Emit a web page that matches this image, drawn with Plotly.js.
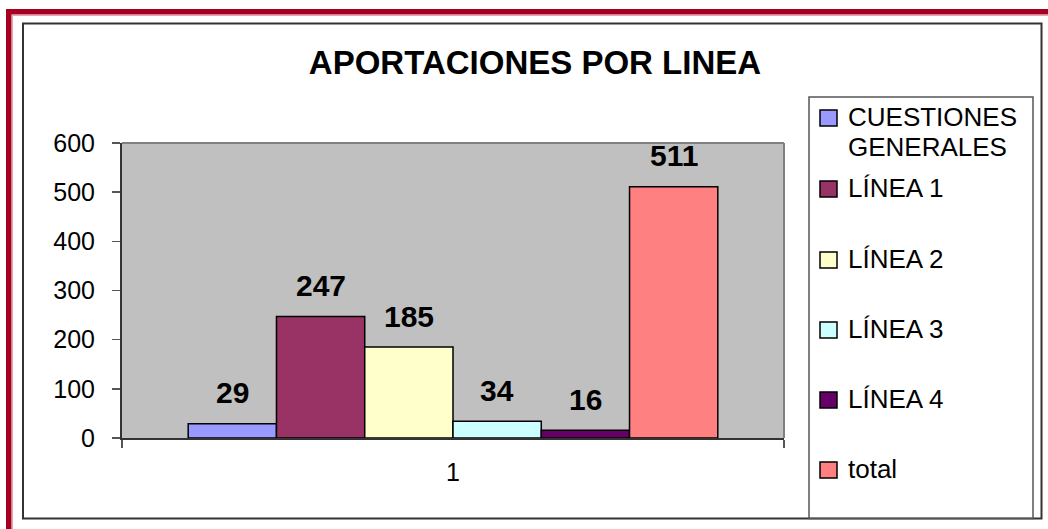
<!DOCTYPE html>
<html>
<head>
<meta charset="utf-8">
<script src="https://cdn.plot.ly/plotly-3.0.1.min.js"></script>
<style>
html,body{margin:0;padding:0;background:#fff;}
#chart{width:1048px;height:529px;}
</style>
</head>
<body>
<div id="chart"></div>
<script>
// ---- data ----
const categories = ['1'];
const seriesNames = ['CUESTIONES<br>GENERALES', 'LÍNEA 1', 'LÍNEA 2', 'LÍNEA 3', 'LÍNEA 4', 'total'];
const seriesValues = [29, 247, 185, 34, 16, 511];
const seriesColors = ['#9999FF', '#993366', '#FFFFCC', '#CCFFFF', '#660066', '#FF8080'];
const yTickValues = [0, 100, 200, 300, 400, 500, 600];
const titleText = 'APORTACIONES POR LINEA';

// ---- layout helpers (pixel -> paper) ----
const W = 1048, H = 529, L = 122, R = 784, T = 143, B = 438;
const px = x => (x - L) / (R - L);
const py = y => (B - y) / (B - T);
const FONT = 'Liberation Sans, Arial, sans-serif';
const BARGAP = 0.2;

const traces = seriesValues.map((v, i) => ({
  type: 'bar',
  name: seriesNames[i],
  x: categories,
  y: [v],
  marker: {color: seriesColors[i], line: {color: '#000', width: 1.5}},
  hoverinfo: 'skip'
}));

const n = seriesValues.length;
const bw = (1 - BARGAP) / n;
const annotations = seriesValues.map((v, i) => ({
  xref: 'x', yref: 'y',
  x: -(1 - BARGAP) / 2 + (i + 0.5) * bw,
  y: v,
  yshift: 31,
  yanchor: 'middle', xanchor: 'center',
  text: String(v),
  showarrow: false,
  font: {family: FONT, size: 30, color: '#000', weight: 'bold'}
}));

// custom legend
const legendFirstLineY = [117, 188, 259, 329, 399, 469];
const legendLineStep = 30;
const shapes = [];
seriesNames.forEach((nm, i) => {
  nm.split('<br>').forEach((line, k) => {
    annotations.push({
      xref: 'paper', yref: 'paper',
      x: px(846), y: py(legendFirstLineY[i] + k * legendLineStep),
      xanchor: 'left', yanchor: 'middle', align: 'left',
      text: line, showarrow: false,
      font: {family: FONT, size: 26, color: '#000'}
    });
  });
  shapes.push({
    type: 'rect', xref: 'paper', yref: 'paper',
    x0: px(820), x1: px(837), y0: py(legendFirstLineY[i] + 1 - 8), y1: py(legendFirstLineY[i] + 1 + 8),
    fillcolor: seriesColors[i], line: {color: '#000', width: 1.5}
  });
});

// frames
shapes.push(
  {type:'rect', xref:'paper', yref:'paper', x0:px(6), x1:px(11.5), y0:py(9), y1:py(540), fillcolor:'#A50021', line:{width:0}, layer:'below'},
  {type:'rect', xref:'paper', yref:'paper', x0:px(6), x1:px(1060), y0:py(9), y1:py(14.5), fillcolor:'#A50021', line:{width:0}, layer:'below'},
  {type:'line', xref:'paper', yref:'paper', x0:px(12.5), x1:px(12.5), y0:py(15), y1:py(540), line:{color:'#E9A3B3', width:1}, layer:'below'},
  {type:'line', xref:'paper', yref:'paper', x0:px(12.5), x1:px(1060), y0:py(15.5), y1:py(15.5), line:{color:'#E9A3B3', width:1}, layer:'below'},
  {type:'rect', xref:'paper', yref:'paper', x0:px(23), x1:px(1041.5), y0:py(23.5), y1:py(518.5), line:{color:'#333', width:2}, fillcolor:'rgba(0,0,0,0)', layer:'below'},
  {type:'rect', xref:'paper', yref:'paper', x0:px(809), x1:px(1033), y0:py(97), y1:py(518.5), line:{color:'#555', width:1.5}, fillcolor:'rgba(0,0,0,0)', layer:'below'},
  {type:'line', xref:'paper', yref:'paper', x0:0, x1:1, y0:1, y1:1, line:{color:'#808080', width:2}},
  {type:'line', xref:'paper', yref:'paper', x0:1, x1:1, y0:0, y1:1, line:{color:'#808080', width:2}}
);

const layout = {
  width: W, height: H,
  margin: {l: L, r: W - R, t: T, b: H - B, pad: 0},
  paper_bgcolor: '#fff',
  plot_bgcolor: '#C0C0C0',
  showlegend: false,
  barmode: 'group',
  bargap: BARGAP,
  bargroupgap: 0,
  title: {
    text: '<b>' + titleText + '</b>',
    xref: 'container', yref: 'container',
    x: 535 / W, xanchor: 'center',
    y: 1 - 62 / H, yanchor: 'middle',
    font: {family: FONT, size: 33, color: '#000'}
  },
  xaxis: {
    type: 'category',
    showline: true, linecolor: '#333', linewidth: 1.5,
    ticks: 'outside', tickson: 'boundaries', ticklen: 8, tickcolor: '#555', tickwidth: 1.5,
    ticklabelstandoff: 11,
    showgrid: false, zeroline: false,
    tickfont: {family: FONT, size: 25, color: '#000'},
    fixedrange: true
  },
  yaxis: {
    range: [0, 600],
    tickvals: yTickValues,
    ticktext: yTickValues.map(String),
    showline: true, linecolor: '#333', linewidth: 2,
    ticks: 'outside', ticklen: 8, tickcolor: '#555', tickwidth: 1.5,
    ticklabelstandoff: 12,
    showgrid: false, zeroline: false,
    tickfont: {family: FONT, size: 25, color: '#000'},
    fixedrange: true
  },
  annotations: annotations,
  shapes: shapes
};

Plotly.newPlot('chart', traces, layout, {displayModeBar: false, staticPlot: true});
</script>
</body>
</html>
